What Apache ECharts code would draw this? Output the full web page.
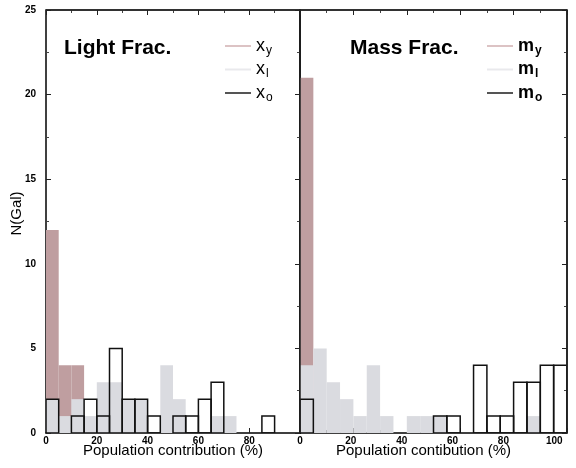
<!DOCTYPE html>
<html>
<head>
<meta charset="utf-8">
<script src="https://cdn.jsdelivr.net/npm/echarts@6/dist/echarts.min.js"></script>
<style>html,body{margin:0;padding:0;background:#fff}#c{width:576px;height:468px}</style>
</head>
<body>
<div id="c"></div>
<script>
// Histogram bins (left edge, %), bin width 5%
const binStarts = [0,5,10,15,20,25,30,35,40,45,50,55,60,65,70,75,80,85,90,95];
const binWidth = 5;
const xTickLabels = ['0','20','40','60','80','100'];
const yTickLabels = ['0','5','10','15','20','25'];

// Light fraction (left panel)
const lightY = [12,4,4,0,0,0,0,0,0,0,0,0,0,0,0,0,0,0,0,0];
const lightI = [2,1,2,1,3,3,2,2,0,4,2,0,0,1,1,0,0,0,0,0];
const lightO = [2,0,1,2,1,5,2,2,1,0,1,1,2,3,0,0,0,1,0,0];

// Mass fraction (right panel)
const massY = [21,0,0,0,0,0,0,0,0,0,0,0,0,0,0,0,0,0,0,0];
const massI = [4,5,3,2,1,4,1,0,1,1,1,0,0,0,0,0,0,1,0,0];
const massO = [2,0,0,0,0,0,0,0,0,0,1,1,0,4,1,1,3,3,4,4];

// axis extents
const X_MAX = 100, Y_MAX = 25;

const PINK = '#bf9ea0', GRAY = '#dadbe0', OUT = '#111';
const FONT = 'Liberation Sans';

function hist(name, xi, yi, counts, fill, stroke) {
  const data = binStarts.map((b, i) => [b, b + binWidth, counts[i]]).filter(d => d[2] > 0);
  const s = {
    type: 'custom', name, xAxisIndex: xi, yAxisIndex: yi, data,
    encode: { x: [0, 1], y: 2 },
    clip: true,
    renderItem(params, api) {
      const p0 = api.coord([api.value(0), 0]);
      const p1 = api.coord([api.value(1), api.value(2)]);
      return {
        type: 'rect',
        shape: { x: p0[0], y: p1[1], width: p1[0] - p0[0], height: p0[1] - p1[1] },
        style: stroke ? { fill: 'none', stroke: OUT, lineWidth: 1.5 } : { fill: fill, stroke: null }
      };
    }
  };
  if (stroke) {
    // top and right edges of the panel frame
    s.markLine = {
      silent: true, symbol: 'none', animation: false,
      label: { show: false },
      lineStyle: { type: 'solid', color: '#222', width: 1.5 },
      data: [{ yAxis: Y_MAX }, { xAxis: X_MAX }]
    };
  }
  return s;
}

const tick = () => ({ show: true, inside: true, length: 5, lineStyle: { color: '#222', width: 1 } });
const minor = () => ({ show: true, splitNumber: 2, length: 3, lineStyle: { color: '#444', width: 1 } });
const lbl = (extra) => Object.assign({ show: true, fontFamily: FONT, fontWeight: 'bold', fontSize: 10, color: '#000' }, extra);

function xAx(grid, pos, opts) {
  return Object.assign({
    type: 'value', gridIndex: grid, position: pos, min: 0, max: X_MAX, interval: 20,
    axisLine: { show: true, onZero: false, lineStyle: { color: pos === 'top' ? '#333' : '#000', width: 1.5 } },
    axisTick: tick(), minorTick: minor(), splitLine: { show: false },
    axisLabel: { show: false }
  }, opts || {});
}
function yAx(grid, pos, opts) {
  return Object.assign({
    type: 'value', gridIndex: grid, position: pos, min: 0, max: Y_MAX, interval: 5,
    axisLine: { show: true, onZero: false, lineStyle: { color: '#000', width: 1.5 } },
    axisTick: tick(), minorTick: minor(), splitLine: { show: false },
    axisLabel: { show: false }
  }, opts || {});
}

const legendText = (bold) => ({
  fontFamily: FONT,
  rich: {
    b: { fontFamily: FONT, fontSize: 18, fontWeight: bold ? 'bold' : 'normal', color: '#000' },
    s: { fontFamily: FONT, fontSize: 12, fontWeight: bold ? 'bold' : 'normal', color: '#000', padding: [9, 0, 0, 1] }
  }
});

const chart = echarts.init(document.getElementById('c'));
chart.setOption({
  animation: false,
  title: [
    { text: 'Light Frac.', left: 59, top: 33, textStyle: { fontFamily: FONT, fontSize: 21, fontWeight: 'bold', color: '#000' } },
    { text: 'Mass Frac.', left: 345, top: 33, textStyle: { fontFamily: FONT, fontSize: 21, fontWeight: 'bold', color: '#000' } }
  ],
  legend: [
    {
      left: 220, top: 32, orient: 'vertical', itemWidth: 26, itemHeight: 2, itemGap: 4,
      selectedMode: false,
      data: [
        { name: 'x_y', icon: 'rect', itemStyle: { color: '#dcc3c4' } },
        { name: 'x_l', icon: 'rect', itemStyle: { color: '#e9e9ec' } },
        { name: 'x_o', icon: 'rect', itemStyle: { color: '#555' } }
      ],
      formatter: n => '{b|x}{s|' + n.slice(2) + '}',
      textStyle: legendText(false)
    },
    {
      left: 482, top: 32, orient: 'vertical', itemWidth: 26, itemHeight: 2, itemGap: 4,
      selectedMode: false,
      data: [
        { name: 'm_y', icon: 'rect', itemStyle: { color: '#dcc3c4' } },
        { name: 'm_l', icon: 'rect', itemStyle: { color: '#e9e9ec' } },
        { name: 'm_o', icon: 'rect', itemStyle: { color: '#555' } }
      ],
      formatter: n => '{b|m}{s|' + n.slice(2) + '}',
      textStyle: legendText(true)
    }
  ],
  grid: [
    { left: 46, top: 10, width: 254, height: 423 },
    { left: 300, top: 10, width: 267, height: 423 }
  ],
  xAxis: [
    xAx(0, 'bottom', {
      axisLabel: lbl({ margin: 3, showMaxLabel: false, formatter: v => xTickLabels[Math.round(v / 20)] }),
      name: 'Population contribution (%)', nameLocation: 'middle', nameGap: 10, nameMoveOverlap: false,
      nameTextStyle: { fontFamily: FONT, fontSize: 15, color: '#000' }
    }),
    xAx(0, 'top'),
    xAx(1, 'bottom'),
    xAx(1, 'top'),
    {
      type: 'value', gridIndex: 1, position: 'bottom', min: 0, max: 105, interval: 20,
      axisLine: { show: false, onZero: false }, axisTick: { show: false }, splitLine: { show: false },
      axisLabel: lbl({ margin: 3, showMaxLabel: false, formatter: v => xTickLabels[Math.round(v / 20)] || '' }),
      name: 'Population contibution (%)', nameLocation: 'middle', nameGap: 10, nameMoveOverlap: false,
      nameTextStyle: { fontFamily: FONT, fontSize: 15, color: '#000', padding: [0, 20, 0, 0] }
    }
  ],
  yAxis: [
    yAx(0, 'left', {
      axisLabel: lbl({ margin: 10, formatter: v => yTickLabels[Math.round(v / 5)] }),
      name: 'N(Gal)', nameLocation: 'middle', nameGap: 22, nameRotate: 90, nameMoveOverlap: false,
      nameTextStyle: { fontFamily: FONT, fontSize: 15, color: '#000', padding: [0, 0, 0, 16] }
    }),
    yAx(0, 'right'),
    yAx(1, 'left', { axisTick: { show: false }, minorTick: { show: false } }),
    yAx(1, 'right')
  ],
  series: [
    hist('x_y', 0, 0, lightY, PINK, false),
    hist('x_l', 1, 1, lightI, GRAY, false),
    hist('x_o', 0, 0, lightO, null, true),
    hist('m_y', 2, 2, massY, PINK, false),
    hist('m_l', 3, 3, massI, GRAY, false),
    hist('m_o', 2, 2, massO, null, true)
  ]
});
</script>
</body>
</html>
